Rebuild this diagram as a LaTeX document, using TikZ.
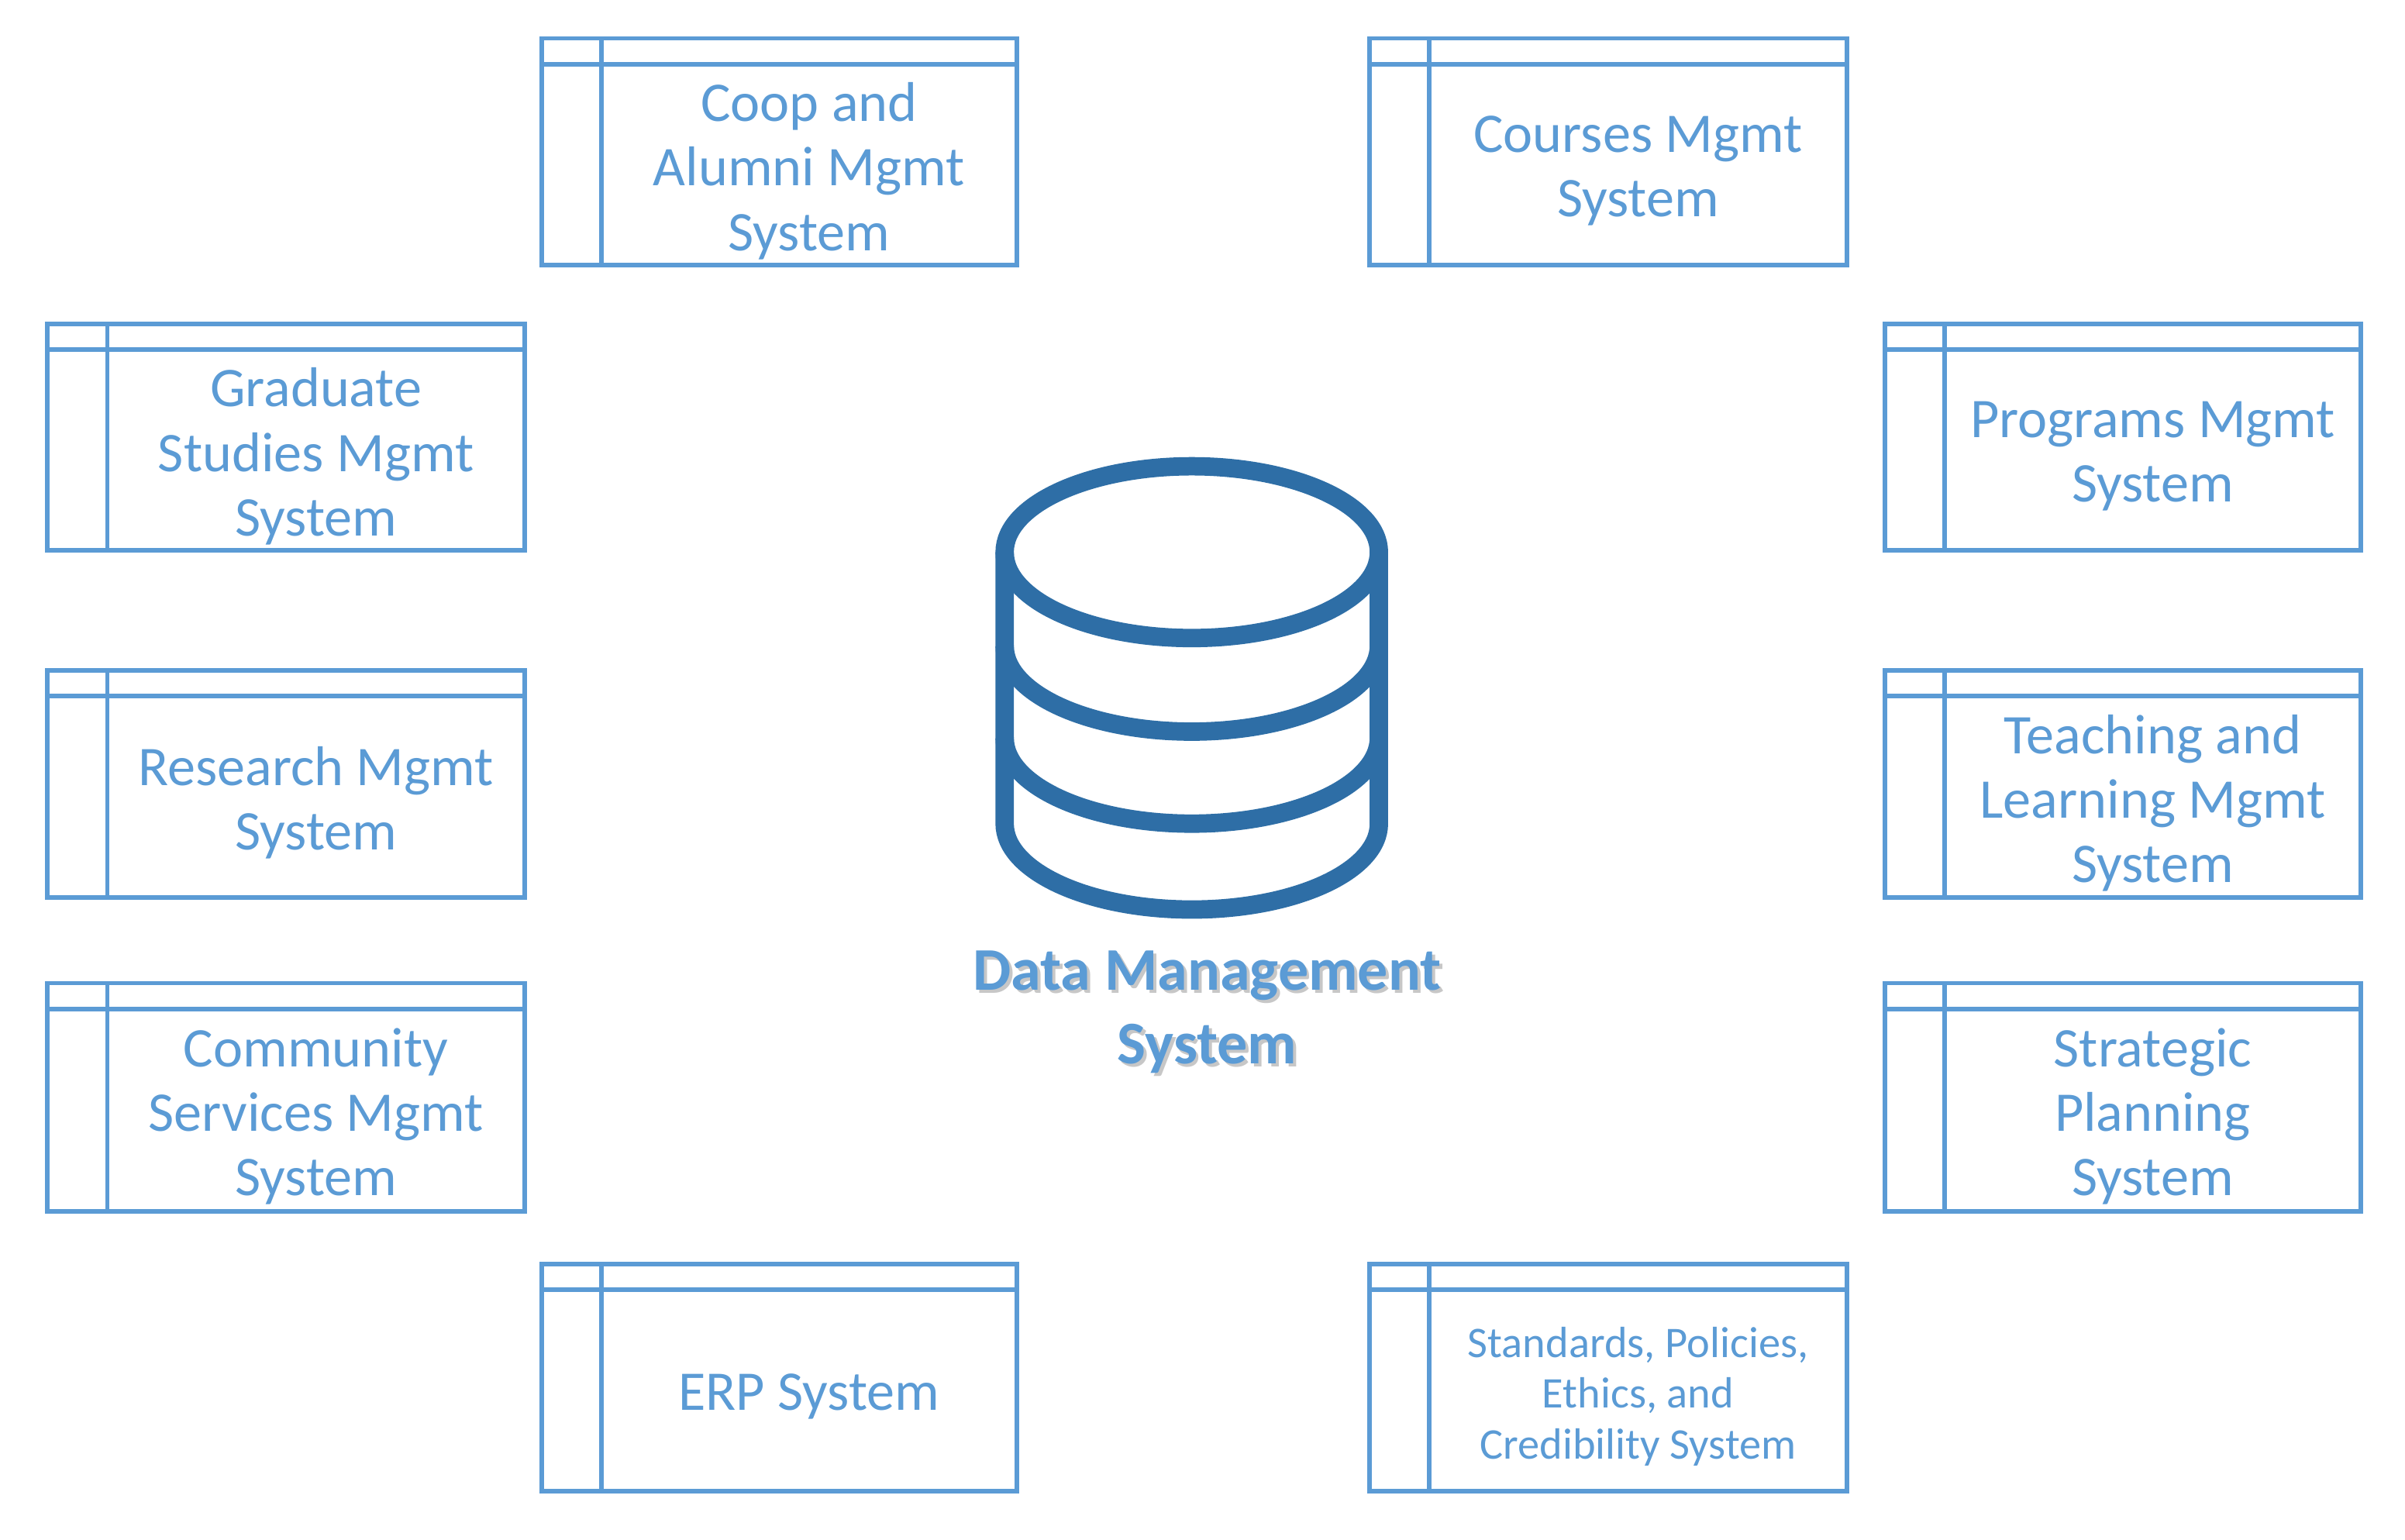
\documentclass[tikz,border=0pt]{standalone}
\usepackage{fontspec}
\setmainfont{Carlito}
\definecolor{lb}{HTML}{5B9BD5}
\definecolor{db}{HTML}{2E6EA6}
\newcommand\sysbox[7][]{% opts, name, x1, y1(top), x2, y2(bottom), text
  \draw[box] (#3,-#4) rectangle (#5,-#6);
  \draw[box] (#3,-#4-17) -- (#5,-#4-17);
  \draw[box] (#3+39,-#4) -- (#3+39,-#6);
  \node[txt,#1] (#2) at ({(#3+39+#5)/2},{-(#4+17+#6)/2-4}) {#7};
}
\begin{document}
\begin{tikzpicture}[x=1pt,y=1pt,
  box/.style={draw=lb,line width=3pt},
  txt/.style={text=lb,align=center,font=\fontsize{36.5}{42}\selectfont,inner sep=0pt}]
\useasboundingbox (0,0) rectangle (1568,-1003.6);
\sysbox{coop}{353}{25}{663}{173}{Coop and\\Alumni Mgmt\\System}
\sysbox{courses}{893}{25}{1204}{173}{Courses Mgmt\\System}
\sysbox{grad}{31}{211}{342}{359}{Graduate\\Studies Mgmt\\System}
\sysbox{prog}{1229}{211}{1539}{359}{Programs Mgmt\\System}
\sysbox{res}{31}{437}{342}{585}{Research Mgmt\\System}
\sysbox{teach}{1229}{437}{1539}{585}{Teaching and\\Learning Mgmt\\System}
\sysbox{comm}{31}{641}{342}{790}{Community\\Services Mgmt\\System}
\sysbox{strat}{1229}{641}{1539}{790}{Strategic\\Planning\\System}
\sysbox{erp}{353}{824}{663}{972}{ERP System}
\sysbox[font=\fontsize{28.5}{33}\selectfont]{std}{893}{824}{1204}{972}{Standards, Policies,\\Ethics, and\\Credibility System}
% database
\begin{scope}[db, line width=12pt]
\draw (777,-360) ellipse [x radius=122, y radius=56];
\draw (655,-360) -- (655,-537) arc[start angle=180,end angle=360,x radius=122,y radius=56] -- (899,-360);
\draw (655,-421) arc[start angle=180,end angle=360,x radius=122,y radius=56];
\draw (655,-481) arc[start angle=180,end angle=360,x radius=122,y radius=56];
\end{scope}
\node[align=center,font=\bfseries\fontsize{39.5}{48}\selectfont,text=black!22,inner sep=0pt] at (789,-662) {Data Management\\System};
\node[align=center,font=\bfseries\fontsize{39.5}{48}\selectfont,text=lb,inner sep=0pt] (dms) at (787,-660) {Data Management\\System};
\end{tikzpicture}
\end{document}
